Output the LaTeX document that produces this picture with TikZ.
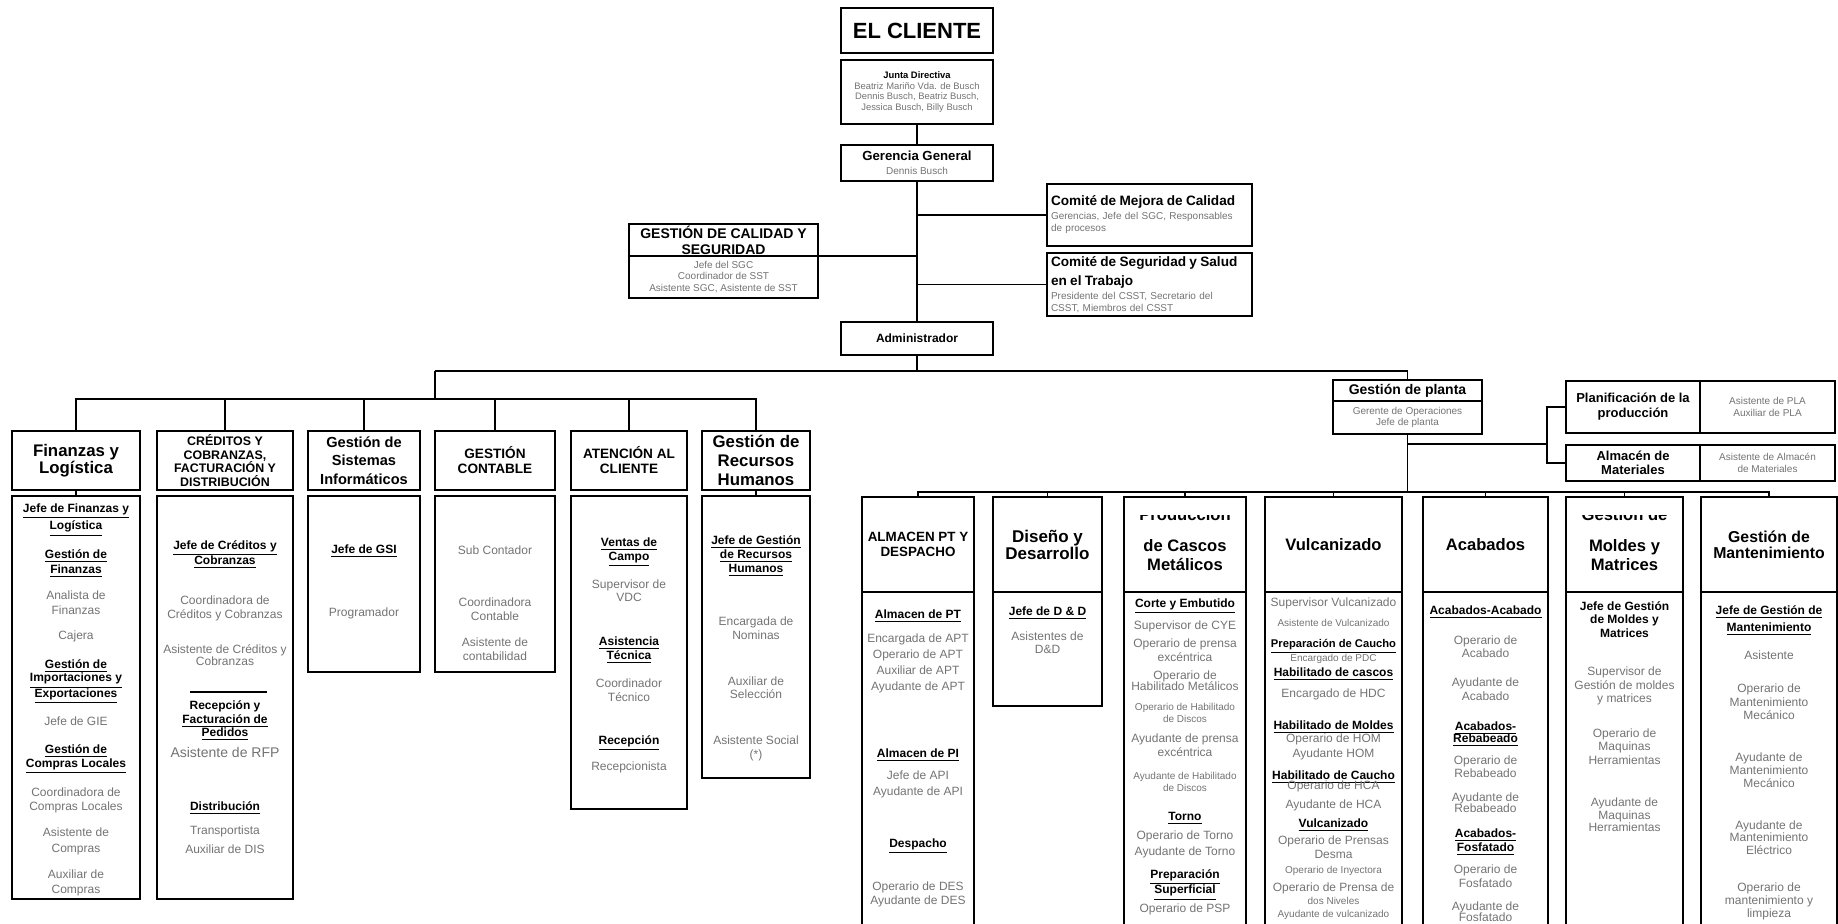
\documentclass[tikz,border=0pt]{standalone}
\usepackage{fontspec}
\setmainfont{Liberation Sans}
\usetikzlibrary{positioning}

\newcommand{\fsz}[2]{\fontsize{#1}{#2}\selectfont}
\newcommand{\subhd}[1]{\textcolor{black}{\bfseries\underline{#1}}}
\newcommand{\bhd}[1]{\textcolor{black}{\bfseries #1}}
\newcommand{\smtxt}[1]{{\fsz{5}{6}#1}}
\newcommand{\cmt}[1]{{\color{black}\bfseries\fsz{6.8}{8}#1}}

\begin{document}
\begin{tikzpicture}[x=0.5pt, y=-0.5pt, font=\fsz{6}{7.5}, node distance=0pt,
box/.style={draw, line width=0.9pt, inner sep=0.5pt, outer sep=0pt, align=center, anchor=north west},
gry/.style={text=black!55},
hd/.style={box, font=\bfseries\fsz{8.4}{8.5}},
bodytxt/.style={inner sep=0pt, align=center, anchor=north, text=black!55},
conn/.style={line width=0.75pt}]
\useasboundingbox (0,0) rectangle (1838,924);

% top of the chart
\node[box, minimum width=76pt, minimum height=22.5pt, font=\bfseries\fsz{11}{12}] (cli) at (841,8) {EL CLIENTE};
\node[box, gry, minimum width=76pt, minimum height=32pt, font=\fsz{4.7}{5.2}] (jun) at (841,60) {\bhd{Junta Directiva}\\Beatriz Mariño Vda. de Busch\\Dennis Busch, Beatriz Busch,\\Jessica Busch, Billy Busch};
\node[box, gry, minimum width=76pt, minimum height=18pt, font=\fsz{5}{7}] (ger) at (841,145) {{\color{black}\bfseries\fsz{6.6}{7}Gerencia General}\\Dennis Busch};
\node[box, minimum width=76pt, minimum height=16.5pt, font=\bfseries\fsz{6}{7}] (adm) at (841,322) {Administrador};
\node[box, minimum width=94.5pt, minimum height=16pt, font=\bfseries\fsz{7}{8}] (calH) at (629,224) {GESTIÓN DE CALIDAD Y\\SEGURIDAD};
\node[box, gry, below=0pt of calH, minimum width=94.5pt, minimum height=21pt, font=\fsz{5}{5.8}] (calB) {Jefe del SGC\\Coordinador de SST\\Asistente SGC, Asistente de SST};
\node[box, gry, text width=98.5pt, inner xsep=2pt, minimum height=31pt, align=left, font=\fsz{5}{6}] (mej) at (1047,184) {\cmt{Comité de Mejora de Calidad}\\[1pt]Gerencias, Jefe del SGC, Responsables\\de procesos};
\node[box, gry, text width=98.5pt, inner xsep=2pt, minimum height=31.5pt, align=left, font=\fsz{5}{6}] (seg) at (1047,253) {\cmt{Comité de Seguridad y Salud}\\[2pt]\cmt{en el Trabajo}\\[1pt]Presidente del CSST, Secretario del\\CSST, Miembros del CSST};

% planta
\node[box, minimum width=74.5pt, minimum height=10.5pt, font=\bfseries\fsz{7}{8}] (plaH) at (1333,380) {Gestión de planta};
\node[box, gry, below=0pt of plaH, minimum width=74.5pt, minimum height=16.5pt, font=\fsz{5}{5.5}] (plaB) {Gerente de Operaciones\\Jefe de planta};
\node[box, minimum width=67pt, minimum height=26pt, font=\bfseries\fsz{6.5}{7.5}] (pprL) at (1566,381) {Planificación de la\\producción};
\node[box, gry, right=0pt of pprL, minimum width=67.5pt, minimum height=26pt, font=\fsz{5}{6}] (pprR) {Asistente de PLA\\Auxiliar de PLA};
\node[box, minimum width=67pt, minimum height=18pt, font=\bfseries\fsz{6.5}{7}] (amtL) at (1566,445) {Almacén de\\Materiales};
\node[box, gry, right=0pt of amtL, minimum width=67.5pt, minimum height=18pt, font=\fsz{5}{6}] (amtR) {Asistente de Almacén\\de Materiales};

% left areas
\node[hd, minimum width=64pt, minimum height=29.5pt] (finH) at (12,431) {Finanzas y\\Logística};
\node[box, below=3pt of finH, minimum width=64pt, minimum height=201.5pt] (finB) {};
\node[box, minimum width=68pt, minimum height=29.5pt, font=\bfseries\fsz{6.2}{6.7}] (creH) at (157,431) {CRÉDITOS Y\\COBRANZAS,\\FACTURACIÓN Y\\DISTRIBUCIÓN};
\node[box, below=3pt of creH, minimum width=68pt, minimum height=201.5pt] (creB) {};
\node[box, minimum width=56pt, minimum height=29.5pt, font=\bfseries\fsz{7.3}{9.3}] (sisH) at (308,431) {Gestión de\\Sistemas\\Informáticos};
\node[box, below=3pt of sisH, minimum width=56pt, minimum height=88pt] (sisB) {};
\node[box, minimum width=60pt, minimum height=29.5pt, font=\bfseries\fsz{6.8}{7.5}] (conH) at (435,431) {GESTIÓN\\CONTABLE};
\node[box, below=3pt of conH, minimum width=60pt, minimum height=88pt] (conB) {};
\node[box, minimum width=58pt, minimum height=29.5pt, font=\bfseries\fsz{6.8}{7.5}] (ateH) at (571,431) {ATENCIÓN AL\\CLIENTE};
\node[box, below=3pt of ateH, minimum width=58pt, minimum height=156.5pt] (ateB) {};
\node[hd, minimum width=54pt, minimum height=29.5pt, font=\bfseries\fsz{8.4}{9.6}] (rrhH) at (702,431) {Gestión de\\Recursos\\Humanos};
\node[box, below=3pt of rrhH, minimum width=54pt, minimum height=141pt] (rrhB) {};

\node[bodytxt, below=3.6pt of finB.north] (finT) {\subhd{Jefe de Finanzas y}\\\subhd{Logística}\\[6pt]\subhd{Gestión de}\\\subhd{Finanzas}\\[5.5pt]Analista de\\Finanzas\\[5pt]Cajera\\[7pt]\subhd{Gestión de}\\[-1pt]\subhd{Importaciones y}\\[-1pt]\subhd{Exportaciones}\\[5.5pt]Jefe de GIE\\[6.5pt]\subhd{Gestión de}\\[-0.5pt]\subhd{Compras Locales}\\[6pt]Coordinadora de\\[-0.5pt]Compras Locales\\[5.5pt]Asistente de\\[0.5pt]Compras\\[5.5pt]Auxiliar de\\Compras};
\node[bodytxt, below=22.1pt of creB.north] (creT) {\subhd{Jefe de Créditos y}\\[-1pt]\subhd{Cobranzas}\\[12.5pt]Coordinadora de\\[-0.5pt]Créditos y Cobranzas\\[10pt]Asistente de Créditos y\\[-1.5pt]Cobranzas\\[14.5pt]\bhd{Recepción y}\\[-0.5pt]\subhd{Facturación de}\\[-1pt]\subhd{Pedidos}\\[3pt]{\fsz{7}{8}Asistente de RFP}\\[19pt]\subhd{Distribución}\\[4.5pt]Transportista\\[2pt]Auxiliar de DIS};
\draw[conn] (190,692) -- (267,692);
\node[bodytxt, below=24.1pt of sisB.north] (sisT) {\subhd{Jefe de GSI}\\[24pt]Programador};
\node[bodytxt, below=24.6pt of conB.north] (conT) {Sub Contador\\[18.5pt]Coordinadora\\[-0.5pt]Contable\\[5.5pt]Asistente de\\[-0.5pt]contabilidad};
\node[bodytxt, below=20.6pt of ateB.north] (ateT) {\subhd{Ventas de}\\[-0.5pt]\subhd{Campo}\\[5.5pt]Supervisor de\\[-1pt]VDC\\[14.5pt]\subhd{Asistencia}\\[-0.5pt]\subhd{Técnica}\\[6.5pt]Coordinador\\[-0.5pt]Técnico\\[14pt]\subhd{Recepción}\\[4.5pt]Recepcionista};
\node[bodytxt, below=19.6pt of rrhB.north] (rrhT) {\subhd{Jefe de Gestión}\\[-0.5pt]\subhd{de Recursos}\\[-0.5pt]\subhd{Humanos}\\[19pt]Encargada de\\[-0.5pt]Nominas\\[15.5pt]Auxiliar de\\[-1pt]Selección\\[15.5pt]Asistente Social\\[-0.5pt](*)};

% plant areas
\node[box, minimum width=56pt, minimum height=47.5pt, font=\bfseries\fsz{6.7}{7.5}] (almH) at (862,497) {ALMACEN PT Y\\DESPACHO};
\node[box, below=0pt of almH, minimum width=56pt, minimum height=169pt] (almB) {};
\node[hd, minimum width=54.5pt, minimum height=47.5pt, font=\bfseries\fsz{8.5}{8.5}] (disH) at (993,497) {Diseño y\\Desarrollo};
\node[box, below=0pt of disH, minimum width=54.5pt, minimum height=57pt] (disB) {};
\node[box, minimum width=61pt, minimum height=47.5pt] (proH) at (1124,497) {};
\node[box, below=0pt of proH, minimum width=61pt, minimum height=169pt] (proB) {};
\node[hd, minimum width=68.5pt, minimum height=47.5pt, font=\bfseries\fsz{8.3}{9}] (vulH) at (1265,497) {Vulcanizado};
\node[box, below=0pt of vulH, minimum width=68.5pt, minimum height=169pt] (vulB) {};
\node[hd, minimum width=62.5pt, minimum height=47.5pt, font=\bfseries\fsz{8.3}{9}] (acaH) at (1423,497) {Acabados};
\node[box, below=0pt of acaH, minimum width=62.5pt, minimum height=169pt] (acaB) {};
\node[box, minimum width=58.5pt, minimum height=47.5pt] (molH) at (1566,497) {};
\node[box, below=0pt of molH, minimum width=58.5pt, minimum height=169pt] (molB) {};
\node[hd, minimum width=68pt, minimum height=47.5pt, font=\bfseries\fsz{7.9}{8}] (manH) at (1701,497) {Gestión de\\Mantenimiento};
\node[box, below=0pt of manH, minimum width=68pt, minimum height=169pt] (manB) {};

\begin{scope}
\clip (1124,516) rectangle (1246,592);
\node[font=\bfseries\fsz{8.3}{9.5}, align=center, inner sep=0pt] (proHT) at (1185,539) {Producción\\[6pt]de Cascos\\Metálicos};
\end{scope}
\begin{scope}
\clip (1566,516) rectangle (1683,592);
\node[font=\bfseries\fsz{8.3}{9.5}, align=center, inner sep=0pt] (molHT) at (1624.5,539) {Gestión de\\[6pt]Moldes y\\Matrices};
\end{scope}

\node[bodytxt, below=8.6pt of almB.north] (almT) {\subhd{Almacen de PT}\\[4.5pt]Encargada de APT\\[0.5pt]Operario de APT\\[0.5pt]Auxiliar de APT\\[0.5pt]Ayudante de APT\\[26pt]\subhd{Almacen de PI}\\[3.5pt]Jefe de API\\[0.5pt]Ayudante de API\\[18.5pt]\subhd{Despacho}\\[13pt]Operario de DES\\[-0.5pt]Ayudante de DES};
\node[bodytxt, below=7.1pt of disB.north] (disT) {\subhd{Jefe de D \& D}\\[5pt]Asistentes de\\[-1pt]D\&D};
\node[bodytxt, below=3.1pt of proB.north] (proT) {\subhd{Corte y Embutido}\\[2.5pt]Supervisor de CYE\\[1.5pt]Operario de prensa\\[-0.5pt]excéntrica\\[1.5pt]Operario de\\[-2pt]Habilitado Metálicos\\[2.5pt]\smtxt{Operario de Habilitado}\\[-1.5pt]\smtxt{de Discos}\\[2.5pt]Ayudante de prensa\\[-0.5pt]excéntrica\\[4pt]\smtxt{Ayudante de Habilitado}\\[-1.5pt]\smtxt{de Discos}\\[7pt]\subhd{Torno}\\[2pt]Operario de Torno\\[0.5pt]Ayudante de Torno\\[4pt]\subhd{Preparación}\\[-1pt]\subhd{Superficial}\\[1pt]Operario de PSP};
\node[bodytxt, below=2.6pt of vulB.north] (vulT) {Supervisor Vulcanizado\\[2.5pt]\smtxt{Asistente de Vulcanizado}\\[3pt]{\fsz{5.6}{7}\subhd{Preparación de Caucho}}\\[-0.5pt]\smtxt{Encargado de PDC}\\\subhd{Habilitado de cascos}\\[3pt]Encargado de HDC\\[8.5pt]\subhd{Habilitado de Moldes}\\[-1pt]Operario de HOM\\Ayudante HOM\\[3.5pt]\subhd{Habilitado de Caucho}\\[-2.5pt]Operario de HCA\\[2pt]Ayudante de HCA\\[2pt]\subhd{Vulcanizado}\\[1pt]Operario de Prensas\\[-0.5pt]Desma\\\smtxt{Operario de Inyectora}\\[1.5pt]Operario de Prensa de\\[-1pt]\smtxt{dos Niveles}\\[-1pt]\smtxt{Ayudante de vulcanizado}};
\node[bodytxt, below=6.6pt of acaB.north] (acaT) {\subhd{Acabados-Acabado}\\[7.5pt]Operario de\\[-1pt]Acabado\\[7pt]Ayudante de\\[-0.5pt]Acabado\\[7.5pt]\subhd{Acabados-}\\[-1.5pt]\subhd{Rebabeado}\\[3.5pt]Operario de\\[-1pt]Rebabeado\\[4.5pt]Ayudante de\\[-2pt]Rebabeado\\[5pt]\subhd{Acabados-}\\[-0.5pt]\subhd{Fosfatado}\\[3.5pt]Operario de\\[-0.5pt]Fosfatado\\[4pt]Ayudante de\\[-2pt]Fosfatado};
\node[bodytxt, below=4.6pt of molB.north] (molT) {\bhd{Jefe de Gestión}\\[-1pt]\bhd{de Moldes y}\\[-0.5pt]\bhd{Matrices}\\[11.5pt]Supervisor de\\[-0.5pt]Gestión de moldes\\[-1pt]y matrices\\[10pt]Operario de\\[-1pt]Maquinas\\[-0.5pt]Herramientas\\[13.5pt]Ayudante de\\[-1pt]Maquinas\\[-1.5pt]Herramientas};
\node[bodytxt, below=6.6pt of manB.north] (manT) {\subhd{Jefe de Gestión de}\\[1pt]\subhd{Mantenimiento}\\[6.5pt]Asistente\\[9pt]Operario de\\[-0.5pt]Mantenimiento\\[-1pt]Mecánico\\[13.5pt]Ayudante de\\[-1pt]Mantenimiento\\[-1pt]Mecánico\\[13.5pt]Ayudante de\\[-1.5pt]Mantenimiento\\[-1pt]Eléctrico\\[11pt]Operario de\\[-1pt]mantenimiento y\\[-1pt]limpieza};

% connectors
\coordinate (ub) at (435,371);
\coordinate (lb) at (435,399);
\coordinate (bot) at (918,492);
\coordinate (br) at (1547,444);
\draw[conn] (jun) -- (ger); \draw[conn] (ger) -- (adm);
\draw[conn] (ger.south |- mej.west) -- (mej.west); \draw[conn] (ger.south |- seg.west) -- (seg.west);
\draw[conn] (calB.north east) -- (ger.south |- calB.north east);
\draw[conn] (adm.south) -- (adm.south |- ub);
\draw[conn] (ub) -- (plaH.north |- ub) -- (plaH.north); \draw[conn] (ub) -- (lb);
\draw[conn] (finH.north) |- (lb) -| (rrhH.north);
\draw[conn] (creH.north) -- (creH.north |- lb); \draw[conn] (sisH.north) -- (sisH.north |- lb);
\draw[conn] (conH.north) -- (conH.north |- lb); \draw[conn] (ateH.north) -- (ateH.north |- lb);
\draw[conn] (finH) -- (finB); \draw[conn] (rrhH) -- (rrhB);
\draw[conn] (plaB.south) -- (plaB.south |- bot);
\draw[conn] (plaB.south |- br) -- (br);
\draw[conn] (pprL.west) -| (br) |- (amtL.west);
\draw[conn] (almH.north) -- (bot) -- (manH.north |- bot) -- (manH.north);
\draw[conn] (disH.north) -- (disH.north |- bot); \draw[conn] (proH.north) -- (proH.north |- bot);
\draw[conn] (vulH.north) -- (vulH.north |- bot); \draw[conn] (acaH.north) -- (acaH.north |- bot);
\draw[conn] (molH.north) -- (molH.north |- bot);
\end{tikzpicture}
\end{document}
